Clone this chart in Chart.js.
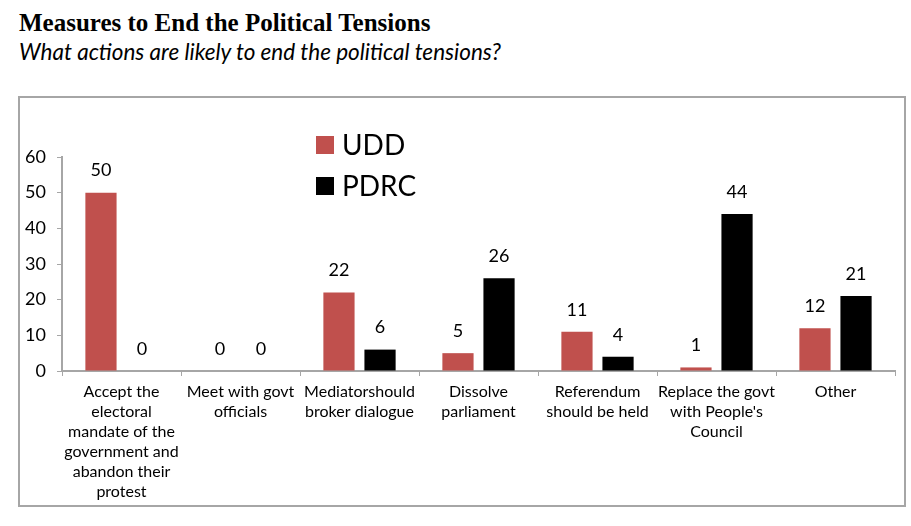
<!DOCTYPE html>
<html>
<head>
<meta charset="utf-8">
<script src="https://cdn.jsdelivr.net/npm/chart.js@4.4.1/dist/chart.umd.min.js"></script>
<style>
  body { margin: 0; background: #fff; width: 911px; height: 526px; position: relative; overflow: hidden; }
  #title { position: absolute; left: 19px; top: 9px; font: bold 25px "Liberation Serif", "Times New Roman", serif; color: #000; }
  #subtitle { position: absolute; left: 19px; top: 38px; font: italic 22.5px Lato, sans-serif; color: #000; }
  #box { position: absolute; left: 18px; top: 96px; width: 884px; height: 407px; border: 2px solid #a6a6a6; }
  #box canvas { display: block; }
</style>
</head>
<body>
<div id="title">Measures to End the Political Tensions</div>
<div id="subtitle">What actions are likely to end the political tensions?</div>
<div id="box"><canvas id="chart" width="884" height="407"></canvas></div>
<script>
const categories = [
  ['Accept the', 'electoral', 'mandate of the', 'government and', 'abandon their', 'protest'],
  ['Meet with govt', 'officials'],
  ['Mediatorshould', 'broker dialogue'],
  ['Dissolve', 'parliament'],
  ['Referendum', 'should be held'],
  ['Replace the govt', "with People's", 'Council'],
  ['Other']
];
const uddValues = [50, 0, 22, 5, 11, 1, 12];
const pdrcValues = [0, 0, 6, 26, 4, 44, 21];
const yTicks = [0, 10, 20, 30, 40, 50, 60];

const valueLabels = {
  id: 'valueLabels',
  afterDatasetsDraw(chart) {
    const ctx = chart.ctx;
    ctx.save();
    ctx.font = '18px Lato, sans-serif';
    ctx.fillStyle = '#000';
    ctx.textAlign = 'center';
    ctx.textBaseline = 'middle';
    chart.data.datasets.forEach((ds, i) => {
      chart.getDatasetMeta(i).data.forEach((bar, j) => {
        ctx.fillText(ds.data[j], bar.x, bar.y - 22);
      });
    });
    ctx.restore();
  }
};

const innerLegend = {
  id: 'innerLegend',
  afterDraw(chart) {
    const ctx = chart.ctx;
    const x = chart.chartArea.left + 254;
    const y0 = chart.chartArea.top - 12;
    ctx.save();
    ctx.font = '28px Lato, sans-serif';
    ctx.textBaseline = 'middle';
    chart.data.datasets.forEach((ds, i) => {
      const y = y0 + i * 41;
      ctx.fillStyle = ds.backgroundColor;
      ctx.fillRect(x, y - 9, 18, 18);
      ctx.fillStyle = '#000';
      ctx.fillText(ds.label, x + 26, y + 1);
    });
    ctx.restore();
  }
};

new Chart(document.getElementById('chart'), {
  type: 'bar',
  data: {
    labels: categories,
    datasets: [
      { label: 'UDD', data: uddValues, backgroundColor: '#C0504D' },
      { label: 'PDRC', data: pdrcValues, backgroundColor: '#000000' }
    ]
  },
  options: {
    responsive: false,
    animation: false,
    devicePixelRatio: 1,
    categoryPercentage: 0.69,
    barPercentage: 0.76,
    layout: { padding: { top: 59, right: 9, left: 0, bottom: 0 } },
    plugins: { legend: { display: false }, tooltip: { enabled: false } },
    scales: {
      x: {
        afterFit(scale) { scale.height = 134; },
        grid: { offset: true, drawOnChartArea: false, color: '#a6a6a6', tickLength: 5 },
        border: { color: '#a6a6a6', width: 2 },
        ticks: { color: '#000', font: { family: 'Lato', size: 16, lineHeight: 1.25 }, padding: 6, maxRotation: 0, autoSkip: false }
      },
      y: {
        min: 0,
        max: 60,
        afterFit(scale) { scale.width = 42; },
        afterBuildTicks(scale) { scale.ticks = yTicks.map(v => ({ value: v })); },
        grid: { drawOnChartArea: false, color: '#a6a6a6', tickLength: 5 },
        border: { color: '#a6a6a6', width: 2 },
        ticks: { color: '#000', font: { family: 'Lato', size: 18 }, padding: 11 }
      }
    }
  },
  plugins: [valueLabels, innerLegend]
});
</script>
</body>
</html>
